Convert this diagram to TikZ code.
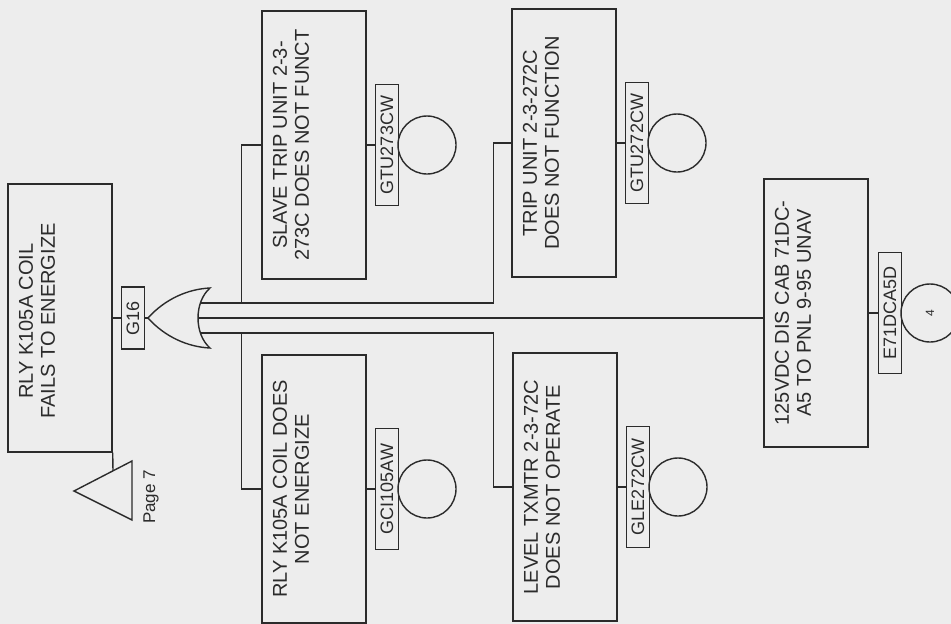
\documentclass[tikz,border=0pt]{standalone}
\usepackage{fontspec}
\setmainfont{Liberation Sans}

\definecolor{scanbg}{gray}{0.93}
\definecolor{ink}{gray}{0.17}

\begin{document}
\begin{tikzpicture}[x=1pt, y=-1pt,
  evbox/.style={rectangle, draw=ink, line width=1.4pt, minimum width=104pt, minimum height=268pt, inner sep=0pt},
  evtext/.style={rotate=90, align=center, text=ink, font=\fontsize{20}{22}\selectfont},
  evtag/.style={rectangle, draw=ink, line width=1.4pt, rotate=90, minimum width=121pt, minimum height=23pt, inner sep=0pt, text=ink, font=\fontsize{18}{18}\selectfont},
  evcirc/.style={circle, draw=ink, line width=1.4pt, minimum size=58pt, inner sep=0pt, rotate=90, text=ink, font=\fontsize{12}{12}\selectfont},
  line/.style={draw=ink, line width=1.4pt}
]
\useasboundingbox (0,0) rectangle (951,624);
\fill[scanbg] (0,0) rectangle (951,624);

% top event and gate
\node [evbox] (relay) at (60,318) {};
\node [evtext] (relaytxt) at (37,321) {RLY K105A COIL\\FAILS TO ENERGIZE};
\node [evtag, minimum width=62pt] (g16lbl) at (133,318) {G16};
\coordinate (g16) at (148,318);
\draw [line] (g16) .. controls (165,299) and (188,289) .. (210,288)
  .. controls (194,302) and (194,334) .. (210,348)
  .. controls (188,347) and (165,337) .. (g16);
\coordinate (in1) at (201,303);
\coordinate (in2) at (198,318);
\coordinate (in3) at (201,333);

% transfer
\coordinate (xfer) at (113,471);
\draw [line] (74,491) -- (132,461) -- (132,520) -- cycle;
\node [rotate=90, text=ink, font=\fontsize{17}{17}\selectfont] (xferlbl) at (151,497) {Page 7};

% inputs
\node [evbox] (slave) at (314,145) {};
\node [evtext] (slavetxt) at ([xshift=-23pt]slave.center) {SLAVE TRIP UNIT 2-3-\\273C DOES NOT FUNCT};
\node [evtag] (gtu273) at ([xshift=73pt]slave.center) {GTU273CW};
\node [evcirc] (gtu273c) at ([xshift=40pt]gtu273.center) {};

\node [evbox] (trip) at (564,143) {};
\node [evtext] (triptxt) at ([xshift=-23pt]trip.center) {TRIP UNIT 2-3-272C\\DOES NOT FUNCTION};
\node [evtag] (gtu272) at ([xshift=73pt]trip.center) {GTU272CW};
\node [evcirc] (gtu272c) at ([xshift=40pt]gtu272.center) {};

\node [evbox] (coil) at (314,489) {};
\node [evtext] (coiltxt) at ([xshift=-23pt]coil.center) {RLY K105A COIL DOES\\NOT ENERGIZE};
\node [evtag] (gci105) at ([xshift=73pt]coil.center) {GCI105AW};
\node [evcirc] (gci105c) at ([xshift=40pt]gci105.center) {};

\node [evbox] (txmtr) at (565,487) {};
\node [evtext] (txmtrtxt) at ([xshift=-23pt]txmtr.center) {LEVEL TXMTR 2-3-72C\\DOES NOT OPERATE};
\node [evtag] (gle272) at ([xshift=73pt]txmtr.center) {GLE272CW};
\node [evcirc] (gle272c) at ([xshift=40pt]gle272.center) {};

\node [evbox] (dcpnl) at (816,313) {};
\node [evtext] (dcpnltxt) at ([xshift=-23pt]dcpnl.center) {125VDC DIS CAB 71DC-\\A5 TO PNL 9-95 UNAV};
\node [evtag] (e71) at ([xshift=74pt]dcpnl.center) {E71DCA5D};
\node [evcirc] (e71c) at ([xshift=40pt]e71.center) {4};

% connectors
\path [line] (relay) -- (g16lbl);
\path [line] (g16lbl) -- (g16);
\path [line] (relay.south east) -- (xfer);
\path [line] (slave.west) -- ++(-20pt,0) |- (in1);
\path [line] (trip.west) -- ++(-18pt,0) |- (in1);
\path [line] (coil.west) -- ++(-20pt,0) |- (in3);
\path [line] (txmtr.west) -- ++(-19pt,0) |- (in3);
\path [line] (in2) -- (in2 -| dcpnl.west);
\path [line] (slave) -- (gtu273);
\path [line] (trip) -- (gtu272);
\path [line] (coil) -- (gci105);
\path [line] (txmtr) -- (gle272);
\path [line] (dcpnl) -- (e71);
\end{tikzpicture}
\end{document}
